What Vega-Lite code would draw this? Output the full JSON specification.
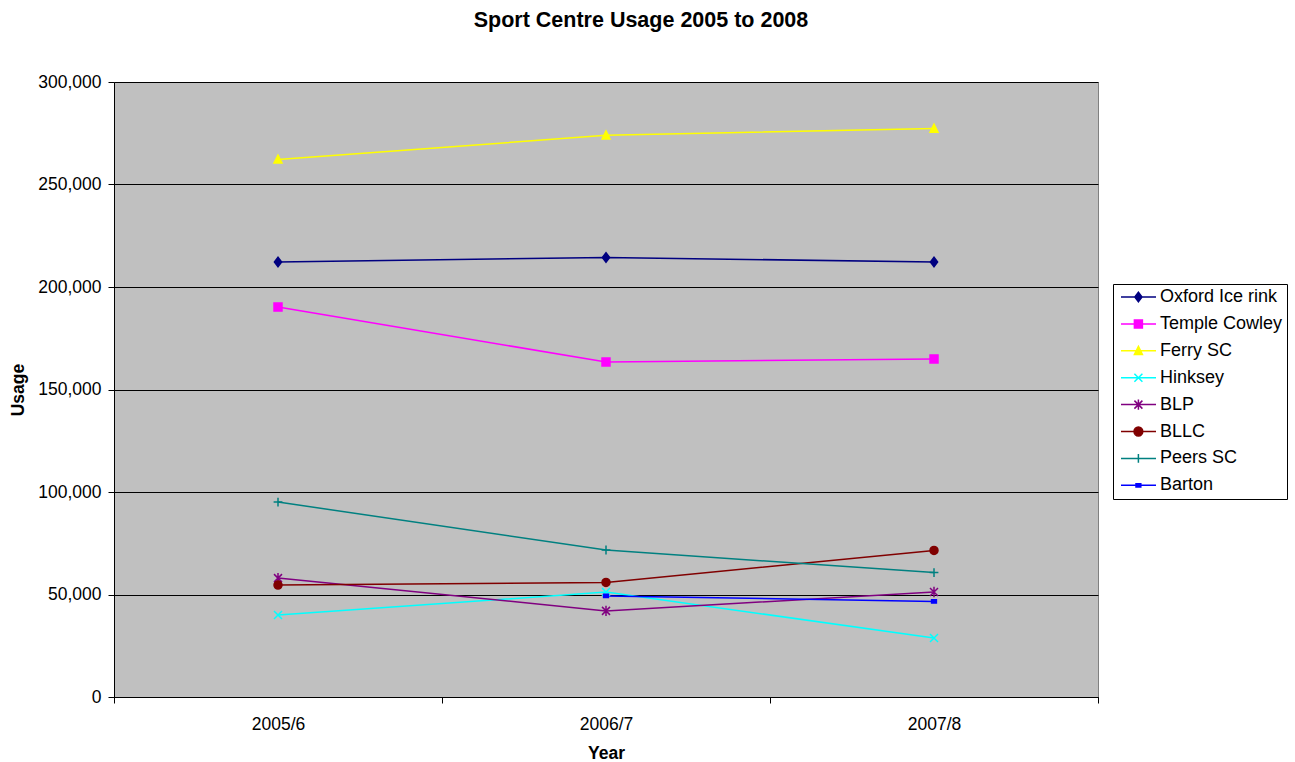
{
  "$schema": "https://vega.github.io/schema/vega-lite/v6.json",
  "width": 984,
  "height": 615,
  "autosize": {"type": "none"},
  "padding": {"left": 114, "top": 82, "right": 197, "bottom": 65},
  "background": "white",
  "config": {
    "view": {"fill": "#C0C0C0", "stroke": "#808080", "strokeWidth": 1},
    "font": "Liberation Sans",
    "legend": {
      "orient": "none",
      "legendX": 999,
      "legendY": 202,
      "padding": 4,
      "strokeColor": "black",
      "fillColor": "white",
      "labelFontSize": 18,
      "labelFont": "Liberation Sans",
      "labelColor": "black",
      "labelOffset": 25,
      "symbolSize": 64,
      "symbolStrokeWidth": 1.5,
      "symbolOpacity": 1,
      "rowPadding": 8.9
    }
  },
  "title": {
    "text": "Sport Centre Usage 2005 to 2008",
    "font": "Liberation Sans",
    "fontSize": 21.5,
    "fontWeight": "bold",
    "color": "black",
    "anchor": "middle",
    "baseline": "alphabetic",
    "dx": 35,
    "offset": 25
  },
  "data": {
    "values": [
      {"site": "Oxford Ice rink", "year": "2005/6", "usage": 212200},
      {"site": "Oxford Ice rink", "year": "2006/7", "usage": 214400},
      {"site": "Oxford Ice rink", "year": "2007/8", "usage": 212200},
      {"site": "Temple Cowley", "year": "2005/6", "usage": 190200},
      {"site": "Temple Cowley", "year": "2006/7", "usage": 163400},
      {"site": "Temple Cowley", "year": "2007/8", "usage": 164900},
      {"site": "Ferry SC", "year": "2005/6", "usage": 262200},
      {"site": "Ferry SC", "year": "2006/7", "usage": 274000},
      {"site": "Ferry SC", "year": "2007/8", "usage": 277300},
      {"site": "Hinksey", "year": "2005/6", "usage": 40000},
      {"site": "Hinksey", "year": "2006/7", "usage": 51200},
      {"site": "Hinksey", "year": "2007/8", "usage": 28800},
      {"site": "BLP", "year": "2005/6", "usage": 58000},
      {"site": "BLP", "year": "2006/7", "usage": 42000},
      {"site": "BLP", "year": "2007/8", "usage": 51200},
      {"site": "BLLC", "year": "2005/6", "usage": 54600},
      {"site": "BLLC", "year": "2006/7", "usage": 55900},
      {"site": "BLLC", "year": "2007/8", "usage": 71500},
      {"site": "Peers SC", "year": "2005/6", "usage": 95100},
      {"site": "Peers SC", "year": "2006/7", "usage": 71700},
      {"site": "Peers SC", "year": "2007/8", "usage": 60700},
      {"site": "Barton", "year": "2006/7", "usage": 49300},
      {"site": "Barton", "year": "2007/8", "usage": 46600}
    ]
  },
  "encoding": {
    "x": {
      "field": "year",
      "type": "ordinal",
      "bandPosition": 0.5,
      "scale": {"type": "band", "paddingInner": 0, "paddingOuter": 0},
      "axis": {
        "title": "Year",
        "labelAngle": 0,
        "tickBand": "extent",
        "labelFontSize": 17.5,
        "labelColor": "black",
        "labelFont": "Liberation Sans",
        "tickColor": "black",
        "tickSize": 6,
        "domainColor": "black",
        "labelPadding": 12,
        "titleFontSize": 17.5,
        "titleFont": "Liberation Sans",
        "titleFontWeight": "bold",
        "titleColor": "black",
        "titlePadding": 12,
        "grid": false
      }
    },
    "y": {
      "field": "usage",
      "type": "quantitative",
      "scale": {"domain": [0, 300000], "nice": false, "zero": true},
      "axis": {
        "title": "Usage",
        "values": [0, 50000, 100000, 150000, 200000, 250000, 300000],
        "format": ",d",
        "labelFontSize": 17.5,
        "labelColor": "black",
        "labelFont": "Liberation Sans",
        "tickColor": "black",
        "tickSize": 6,
        "domainColor": "black",
        "labelPadding": 7,
        "grid": true,
        "gridColor": "black",
        "gridWidth": 1,
        "gridOpacity": 1,
        "titleFontSize": 17.5,
        "titleFont": "Liberation Sans",
        "titleFontWeight": "bold",
        "titleColor": "black",
        "titlePadding": 10
      }
    }
  },
  "layer": [
    {
      "mark": {"type": "line", "strokeWidth": 1.5},
      "encoding": {
        "stroke": {
          "field": "site",
          "type": "nominal",
          "scale": {
            "domain": ["Oxford Ice rink", "Temple Cowley", "Ferry SC", "Hinksey", "BLP", "BLLC", "Peers SC", "Barton"],
            "range": ["#000080", "#FF00FF", "#FFFF00", "#00FFFF", "#800080", "#800000", "#008080", "#0000FF"]
          },
          "legend": null
        }
      }
    },
    {
      "mark": {"type": "point", "opacity": 1, "size": 64, "strokeWidth": 1.5},
      "encoding": {
        "stroke": {
          "field": "site",
          "type": "nominal",
          "scale": {
            "domain": ["Oxford Ice rink", "Temple Cowley", "Ferry SC", "Hinksey", "BLP", "BLLC", "Peers SC", "Barton"],
            "range": ["#000080", "#FF00FF", "#FFFF00", "#00FFFF", "#800080", "#800000", "#008080", "#0000FF"]
          },
          "legend": null
        },
        "fill": {
          "field": "site",
          "type": "nominal",
          "scale": {
            "domain": ["Oxford Ice rink", "Temple Cowley", "Ferry SC", "Hinksey", "BLP", "BLLC", "Peers SC", "Barton"],
            "range": ["#000080", "#FF00FF", "#FFFF00", "#00FFFF", "#800080", "#800000", "#008080", "#0000FF"]
          },
          "legend": null
        },
        "shape": {
          "field": "site",
          "type": "nominal",
          "scale": {
            "domain": ["Oxford Ice rink", "Temple Cowley", "Ferry SC", "Hinksey", "BLP", "BLLC", "Peers SC", "Barton"],
            "range": ["M0,-1.2L0.9,0L0,1.2L-0.9,0Z", "M-1,-1H1V1H-1Z", "M0,-1.1L1,0.9H-1Z", "M-1,-1L1,1M-1,1L1,-1", "M-1,-1L1,1M-1,1L1,-1M0,-1.3V1.3", "circle", "M-1.1,0H1.1M0,-1.1V1.1", "M-0.6,-0.4H0.6V0.4H-0.6Z"]
          },
          "legend": null
        }
      }
    },
    {
      "transform": [{"filter": "datum.usage < 0"}],
      "mark": {"type": "point", "opacity": 1, "size": 64, "strokeWidth": 1.5},
      "encoding": {
        "stroke": {
          "field": "site",
          "type": "nominal",
          "scale": {
            "domain": ["Oxford Ice rink", "Temple Cowley", "Ferry SC", "Hinksey", "BLP", "BLLC", "Peers SC", "Barton"],
            "range": ["#000080", "#FF00FF", "#FFFF00", "#00FFFF", "#800080", "#800000", "#008080", "#0000FF"]
          },
          "legend": {"title": null}
        },
        "fill": {
          "field": "site",
          "type": "nominal",
          "scale": {
            "domain": ["Oxford Ice rink", "Temple Cowley", "Ferry SC", "Hinksey", "BLP", "BLLC", "Peers SC", "Barton"],
            "range": ["#000080", "#FF00FF", "#FFFF00", "#00FFFF", "#800080", "#800000", "#008080", "#0000FF"]
          },
          "legend": {"title": null}
        },
        "shape": {
          "field": "site",
          "type": "nominal",
          "scale": {
            "domain": ["Oxford Ice rink", "Temple Cowley", "Ferry SC", "Hinksey", "BLP", "BLLC", "Peers SC", "Barton"],
            "range": ["M-1.25,0H7.5M3.1,-1.2L4,0L3.1,1.2L2.2,0Z", "M-1.25,0H7.5M2.1,-1H4.1V1H2.1Z", "M-1.25,0H7.5M3.1,-1.1L4.1,0.9H2.1Z", "M-1.25,0H7.5M2.1,-1L4.1,1M2.1,1L4.1,-1", "M-1.25,0H7.5M2.1,-1L4.1,1M2.1,1L4.1,-1M3.1,-1.3V1.3", "M-1.25,0H7.5M2,0A1.1,1.1,0,1,1,4.2,0A1.1,1.1,0,1,1,2,0Z", "M-1.25,0H7.5M3.1,-1.1V1.1", "M-1.25,0H7.5M2.5,-0.4H3.7V0.4H2.5Z"]
          },
          "legend": {"title": null}
        }
      }
    }
  ],
  "resolve": {
    "scale": {"shape": "independent", "fill": "independent", "stroke": "independent"},
    "legend": {"shape": "independent", "fill": "independent", "stroke": "independent"}
  }
}
